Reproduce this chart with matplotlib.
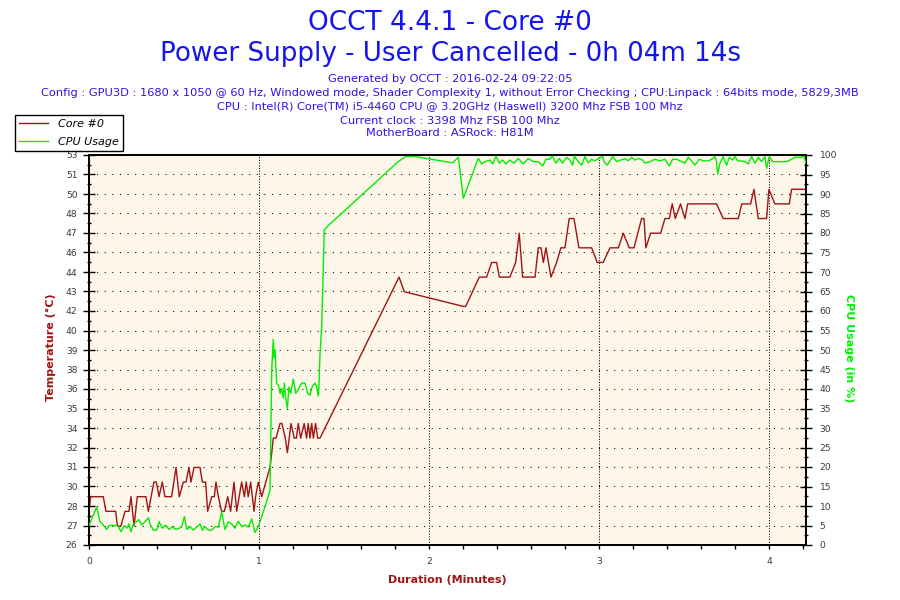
import numpy as np
import matplotlib
matplotlib.use("Agg")
import matplotlib.pyplot as plt
from matplotlib.ticker import FixedLocator, MultipleLocator, FixedFormatter
from matplotlib.lines import Line2D

# ---------------- text ----------------
title_lines = ["OCCT 4.4.1 - Core #0",
               "Power Supply - User Cancelled - 0h 04m 14s"]
info_lines = ["Generated by OCCT : 2016-02-24 09:22:05",
              "Config : GPU3D : 1680 x 1050 @ 60 Hz, Windowed mode, Shader Complexity 1, without Error Checking ; CPU:Linpack : 64bits mode, 5829,3MB",
              "CPU : Intel(R) Core(TM) i5-4460 CPU @ 3.20GHz (Haswell) 3200 Mhz FSB 100 Mhz",
              "Current clock : 3398 Mhz FSB 100 Mhz",
              "MotherBoard : ASRock: H81M"]
series_names = ["Core #0", "CPU Usage"]
x_label = "Duration (Minutes)"
y_left_label = "Temperature (°C)"
y_right_label = "CPU Usage (in %)"

# ---------------- data ----------------
temp_time = [0.0, 0.01, 0.084, 0.1, 0.157, 0.167, 0.188, 0.212, 0.235, 0.247,
             0.265, 0.284, 0.335, 0.349, 0.382, 0.396, 0.412, 0.431, 0.447, 0.486,
             0.512, 0.531, 0.555, 0.571, 0.588, 0.600, 0.618, 0.653, 0.667, 0.686,
             0.698, 0.722, 0.737, 0.747, 0.761, 0.780, 0.796, 0.816, 0.833, 0.853,
             0.869, 0.898, 0.914, 0.925, 0.937, 0.951, 0.971, 0.980, 0.996, 1.016,
             1.040, 1.065, 1.075, 1.084, 1.100, 1.124, 1.135, 1.155, 1.167, 1.178,
             1.188, 1.208, 1.220, 1.231, 1.245, 1.266, 1.280, 1.290, 1.300, 1.310,
             1.320, 1.333, 1.345, 1.359, 1.824, 1.855, 2.202, 2.216, 2.296, 2.339,
             2.369, 2.398, 2.414, 2.476, 2.510, 2.531, 2.551, 2.624, 2.643, 2.659,
             2.673, 2.688, 2.718, 2.751, 2.776, 2.800, 2.825, 2.853, 2.882, 2.957,
             2.990, 3.025, 3.065, 3.114, 3.143, 3.178, 3.206, 3.251, 3.265, 3.276,
             3.304, 3.363, 3.388, 3.414, 3.431, 3.449, 3.480, 3.506, 3.522, 3.692,
             3.731, 3.820, 3.840, 3.892, 3.912, 3.937, 3.986, 4.000, 4.035, 4.120,
             4.133, 4.218]
temp_vals = [28, 29, 29, 28, 28, 27, 27, 28, 28, 29,
             27, 29, 29, 28, 30, 30, 29, 30, 29, 29,
             31, 29, 30, 30, 31, 30, 31, 31, 30, 30,
             28, 29, 29, 30, 29, 28, 28, 29, 28, 30,
             28, 30, 29, 30, 29, 30, 28, 29, 30, 29,
             30, 31, 32, 33, 33, 34, 34, 33, 32, 33,
             34, 33, 33, 34, 33, 34, 33, 34, 33, 34,
             33, 34, 33, 33, 44, 43, 42, 42, 44, 44,
             45, 45, 44, 44, 45, 47, 44, 44, 46, 46,
             45, 46, 44, 45, 46, 46, 48, 48, 46, 46,
             45, 45, 46, 46, 47, 46, 46, 48, 48, 46,
             47, 47, 48, 48, 49, 48, 49, 48, 49, 49,
             48, 48, 49, 49, 50, 48, 48, 50, 49, 49,
             50, 50]

cpu_time = [0.0, 0.045, 0.065, 0.080, 0.104, 0.118, 0.143, 0.163, 0.173, 0.188,
            0.208, 0.222, 0.235, 0.247, 0.261, 0.280, 0.294, 0.310, 0.330, 0.350,
            0.359, 0.378, 0.398, 0.412, 0.431, 0.451, 0.471, 0.490, 0.510, 0.530,
            0.545, 0.561, 0.575, 0.594, 0.614, 0.633, 0.653, 0.667, 0.682, 0.702,
            0.722, 0.741, 0.761, 0.780, 0.800, 0.820, 0.839, 0.859, 0.878, 0.898,
            0.918, 0.937, 0.957, 0.976, 0.996, 1.016, 1.035, 1.065, 1.075, 1.084,
            1.090, 1.094, 1.098, 1.104, 1.114, 1.124, 1.133, 1.143, 1.149, 1.157,
            1.167, 1.176, 1.186, 1.202, 1.216, 1.231, 1.251, 1.271, 1.286, 1.300,
            1.314, 1.329, 1.339, 1.349, 1.353, 1.359, 1.369, 1.378, 1.384, 1.410,
            1.819, 1.863, 1.918, 1.986, 2.140, 2.173, 2.202, 2.290, 2.310, 2.330,
            2.359, 2.375, 2.394, 2.414, 2.433, 2.453, 2.476, 2.500, 2.525, 2.555,
            2.584, 2.614, 2.643, 2.669, 2.688, 2.708, 2.727, 2.747, 2.767, 2.786,
            2.810, 2.829, 2.845, 2.855, 2.878, 2.898, 2.918, 2.937, 2.957, 2.976,
            2.996, 3.022, 3.029, 3.049, 3.081, 3.104, 3.124, 3.133, 3.153, 3.172,
            3.192, 3.212, 3.231, 3.251, 3.271, 3.300, 3.329, 3.359, 3.388, 3.414,
            3.433, 3.457, 3.486, 3.506, 3.525, 3.545, 3.565, 3.590, 3.614, 3.643,
            3.663, 3.682, 3.692, 3.698, 3.712, 3.731, 3.751, 3.767, 3.786, 3.800,
            3.816, 3.833, 3.859, 3.878, 3.898, 3.918, 3.937, 3.957, 3.976, 3.986,
            4.002, 4.022, 4.065, 4.104, 4.133, 4.153, 4.192, 4.206, 4.218]
cpu_vals = [5.0, 9.7, 6.0, 5.3, 4.0, 5.0, 5.0, 5.0, 4.7, 3.4,
            5.0, 4.3, 5.4, 3.4, 5.4, 6.0, 6.5, 5.1, 6.0, 7.0,
            5.4, 3.8, 3.8, 6.0, 4.3, 5.1, 4.0, 4.7, 4.0, 4.3,
            4.6, 7.3, 4.0, 4.7, 3.8, 4.6, 5.4, 3.8, 4.7, 3.8,
            3.8, 4.7, 4.6, 8.5, 4.0, 6.0, 5.4, 4.3, 6.1, 4.7,
            5.1, 4.6, 6.7, 3.2, 4.7, 7.3, 9.8, 14.0, 45.0, 52.7,
            48.0, 50.0, 46.6, 41.5, 41.0, 38.9, 40.2, 37.7, 41.5, 37.7,
            35.0, 40.5, 38.9, 42.5, 38.9, 39.8, 41.5, 41.5, 38.9, 38.4,
            40.7, 41.5, 40.7, 38.2, 41.0, 49.0, 56.0, 70.5, 80.8, 82.0,
            98.3, 99.6, 99.6, 99.1, 98.0, 99.4, 88.9, 99.1, 97.7, 98.3,
            98.7, 97.7, 99.7, 97.9, 98.7, 97.7, 98.7, 97.9, 99.1, 97.7,
            99.1, 98.3, 98.3, 97.2, 98.9, 98.9, 99.7, 97.9, 99.1, 97.9,
            99.4, 98.7, 97.4, 99.7, 98.3, 97.4, 99.6, 98.0, 98.9, 98.5,
            99.1, 99.6, 98.3, 97.4, 99.6, 98.3, 98.7, 98.7, 99.1, 98.5,
            99.4, 98.7, 99.1, 98.9, 97.9, 98.3, 98.9, 98.5, 98.9, 97.2,
            98.9, 98.9, 98.3, 97.9, 99.4, 98.5, 97.4, 98.9, 98.5, 98.5,
            98.9, 99.6, 98.3, 95.1, 97.9, 99.6, 97.4, 99.4, 98.7, 99.6,
            98.5, 98.5, 98.3, 97.7, 99.6, 97.9, 99.4, 98.3, 99.6, 96.6,
            99.6, 98.3, 98.3, 98.3, 98.9, 99.4, 99.4, 99.6, 97.9]

temp_axis_range = (25.70, 52.34)
temp_tick_labels = ["26", "27", "28", "30", "31", "32", "34", "35", "36", "38", "39",
                    "40", "42", "43", "44", "46", "47", "48", "50", "51", "53"]
cpu_axis_range = (0, 100)
x_range = (0, 4.218)
x_major_ticks = [0, 1, 2, 3, 4]

# ---------------- style ----------------
RED = "#a01414"
GREEN = "#00ee00"
TXT_BLUE = "#1414f0"
INFO_BLUE = "#3010e8"
TICK_GRAY = "#3a3a3a"
BG = "#fdf6e9"
W, H = 900, 600

plt.rcParams["font.family"] = ["DejaVu Sans"]

fig = plt.figure(figsize=(9, 6), dpi=100)
fig.patch.set_facecolor("white")

ax = fig.add_axes([89 / W, 55 / H, 717 / W, 390 / H])
ax.set_facecolor(BG)
ax2 = ax.twinx()

ax.plot(temp_time, temp_vals, color=RED, lw=1.0, zorder=3)
ax2.plot(cpu_time, cpu_vals, color=GREEN, lw=1.0, zorder=3)

ax.set_xlim(*x_range)
ax.set_ylim(*temp_axis_range)
ax2.set_ylim(*cpu_axis_range)

# left axis ticks
tpos = np.linspace(temp_axis_range[0], temp_axis_range[1], len(temp_tick_labels))
ax.yaxis.set_major_locator(FixedLocator(tpos))
ax.yaxis.set_major_formatter(FixedFormatter(temp_tick_labels))
ax.yaxis.set_minor_locator(FixedLocator((tpos[:-1] + tpos[1:]) / 2))
ax.tick_params(axis="y", which="major", direction="inout", length=8.6, width=1.0,
               pad=4.0, labelsize=6.6, labelcolor=TICK_GRAY, color="black")
ax.tick_params(axis="y", which="minor", direction="inout", length=3.5, width=1.0,
               color="black")

# right axis ticks
ax2.yaxis.set_major_locator(MultipleLocator(5))
ax2.yaxis.set_minor_locator(MultipleLocator(2.5))
ax2.tick_params(axis="y", which="major", direction="inout", length=8.6, width=1.0,
                pad=5.5, labelsize=6.6, labelcolor=TICK_GRAY, color="black")
ax2.tick_params(axis="y", which="minor", direction="inout", length=3.5, width=1.0,
                color="black")

# x ticks
ax.xaxis.set_major_locator(FixedLocator(x_major_ticks))
ax.xaxis.set_minor_locator(MultipleLocator(0.2))
ax.tick_params(axis="x", which="both", direction="out", length=3.2, width=1.0,
               pad=5.5, labelsize=6.6, labelcolor=TICK_GRAY, color="black")

# grid
ax.yaxis.grid(True, which="major", color="black", lw=0.75, linestyle=(0, (1, 6.3)))
ax.xaxis.grid(True, which="major", color="black", lw=0.75, linestyle=(0, (1, 1.6)))
ax.set_axisbelow(False)

for a in (ax, ax2):
    for s in a.spines.values():
        s.set_color("black")
        s.set_linewidth(1.3)

# axis labels
fig.text(51 / W, 1 - 347 / H, y_left_label, rotation=90, ha="center", va="center",
         fontsize=8, fontweight="bold", color=RED)
fig.text(849 / W, 1 - 348 / H, y_right_label, rotation=270, ha="center", va="center",
         fontsize=8, fontweight="bold", color=GREEN)
fig.text(447.5 / W, 1 - 580 / H, x_label, ha="center", va="center",
         fontsize=8, fontweight="bold", color=RED)

# header
title_baselines = [29.5, 61]
title_sizes = [19, 18.8]
for txt, yb, fs in zip(title_lines, title_baselines, title_sizes):
    fig.text(0.5, 1 - yb / H, txt, ha="center", va="baseline", fontsize=fs, color=TXT_BLUE)
info_baselines = [81.5, 95.5, 109.5, 123.5, 136.5]
for txt, yb in zip(info_lines, info_baselines):
    fig.text(0.5, 1 - yb / H, txt, ha="center", va="baseline", fontsize=8.2, color=INFO_BLUE)

# legend
handles = [Line2D([], [], color=RED, lw=1.0), Line2D([], [], color=GREEN, lw=1.0)]
leg = fig.legend(handles, series_names, loc="upper left",
                 bbox_to_anchor=(15 / W, 1 - 115 / H), borderaxespad=0,
                 frameon=True, fancybox=False, edgecolor="black", framealpha=1,
                 prop={"size": 8, "style": "italic"}, handlelength=2.6,
                 handletextpad=0.85, labelspacing=0.7, borderpad=0.38)
leg.get_frame().set_linewidth(1.0)
leg.set_zorder(10)

fig.savefig("out.png", dpi=100, facecolor="white")
